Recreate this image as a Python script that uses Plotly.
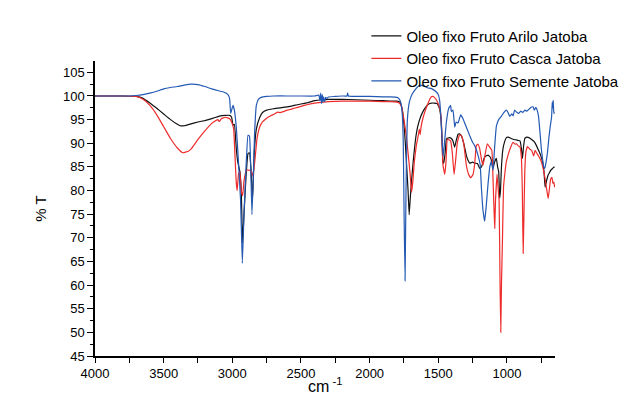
import plotly.graph_objects as go

# ---------------- data ----------------
arilo_x = [4000, 3800, 3700, 3650, 3600, 3550, 3500, 3450, 3400, 3380, 3350, 3300, 3250, 3200, 3150, 3100,
           3050, 3020, 3005, 2995, 2985, 2970, 2960, 2945, 2935, 2925, 2915, 2900, 2886, 2875, 2865, 2853,
           2840, 2825, 2800, 2780, 2750, 2700, 2650, 2600, 2550, 2500, 2450, 2400, 2350, 2300, 2250, 2200,
           2100, 2000, 1900, 1800, 1780, 1765, 1750, 1740, 1730, 1720, 1712, 1705, 1695, 1680, 1665, 1650,
           1630, 1610, 1590, 1570, 1550, 1530, 1510, 1500, 1490, 1480, 1472, 1466, 1460, 1450, 1441, 1430,
           1417, 1405, 1393, 1381, 1370, 1356, 1345, 1332, 1315, 1296, 1285, 1271, 1250, 1235, 1215, 1198,
           1185, 1174, 1160, 1138, 1120, 1110, 1101, 1090, 1077, 1068, 1060, 1053, 1047, 1040, 1029, 1015,
           1004, 990, 970, 950, 930, 919, 905, 895, 887, 880, 870, 855, 840, 820, 800, 785, 770, 755, 740,
           730, 722, 712, 700, 690, 680, 670, 660, 653]
arilo_y = [100, 100, 99.9, 99.5, 98.5, 97.4, 96.2, 95.0, 94.0, 93.7, 93.7, 94.1, 94.5, 94.8, 95.2, 95.7,
           95.9, 95.9, 95.5, 93.8, 94.0, 88.5, 86.0, 84.0, 80.0, 68.9, 75.0, 83.0, 87.8, 88.0, 85.0, 78.0,
           88.0, 93.0, 95.5, 96.5, 97.0, 97.3, 97.5, 97.7, 98.0, 98.3, 98.6, 99.0, 99.2, 99.3, 99.3, 99.3,
           99.2, 99.1, 99.0, 98.9, 98.7, 97.5, 94.0, 90.0, 85.0, 80.0, 74.9, 78.0, 82.0, 87.0, 91.0, 93.5,
           95.5, 96.8, 97.7, 98.3, 98.5, 98.5, 98.4, 98.0, 97.2, 95.0, 90.0, 86.0, 85.8, 88.0, 90.9, 91.1,
           91.2, 91.0, 90.5, 89.2, 90.5, 91.9, 92.0, 91.6, 90.0, 87.5, 86.5, 85.8, 86.0, 85.8, 85.7, 84.7,
           85.0, 86.1, 87.2, 87.5, 87.0, 86.0, 84.7, 86.0, 86.8, 85.0, 84.0, 78.4, 80.0, 85.0, 88.8, 90.5,
           91.2, 91.3, 91.0, 90.8, 90.7, 90.6, 90.5, 89.0, 86.8, 89.0, 91.0, 91.3, 91.2, 90.8, 90.3, 89.5,
           88.5, 87.5, 86.0, 84.0, 80.7, 82.0, 83.3, 83.8, 84.3, 84.6, 84.9, 85.0]

casca_x = [4000, 3800, 3700, 3650, 3600, 3550, 3500, 3450, 3400, 3360, 3320, 3300, 3250, 3200, 3150, 3120,
           3105, 3095, 3080, 3050, 3020, 3005, 2990, 2980, 2972, 2965, 2955, 2945, 2935, 2925, 2915, 2898,
           2874, 2860, 2850, 2837, 2820, 2800, 2780, 2750, 2720, 2700, 2670, 2650, 2600, 2550, 2500, 2450,
           2400, 2300, 2200, 2100, 2000, 1900, 1850, 1800, 1780, 1765, 1750, 1735, 1720, 1705, 1695, 1685,
           1675, 1660, 1645, 1638, 1632, 1625, 1610, 1590, 1570, 1555, 1540, 1525, 1510, 1500, 1490, 1478,
           1466, 1453, 1444, 1434, 1420, 1410, 1398, 1385, 1375, 1361, 1345, 1332, 1315, 1296, 1280, 1264,
           1247, 1235, 1223, 1210, 1198, 1185, 1174, 1160, 1143, 1126, 1110, 1101, 1094, 1089, 1083, 1072,
           1063, 1057, 1050, 1045, 1040, 1033, 1025, 1016, 1005, 992, 975, 956, 940, 930, 919, 905, 895,
           888, 882, 876, 870, 862, 850, 835, 820, 805, 795, 785, 770, 755, 740, 725, 712, 700, 692, 682,
           672, 665, 658, 653]
casca_y = [100, 100, 99.9, 99.3, 98.0, 96.0, 93.5, 91.0, 89.0, 88.0, 88.3, 88.8, 90.8, 92.6, 94.2, 94.8,
           95.0, 94.6, 95.2, 95.5, 95.2, 94.5, 93.0, 87.0, 82.0, 80.0, 83.4, 84.0, 80.0, 78.9, 82.0, 84.3,
           84.3, 84.0, 83.0, 86.0, 91.0, 93.5, 94.5, 95.3, 95.8, 96.1, 96.6, 96.5, 97.0, 97.4, 97.8, 98.2,
           98.5, 98.8, 98.9, 98.9, 98.9, 98.8, 98.8, 98.7, 98.4, 97.5, 95.0, 92.0, 88.0, 83.5, 79.6, 82.0,
           86.0, 89.5, 91.8, 93.0, 91.8, 93.5, 95.5, 97.3, 98.8, 99.7, 99.9, 99.6, 99.0, 98.3, 97.5, 95.0,
           85.4, 83.4, 86.0, 90.9, 90.7, 90.5, 88.0, 83.4, 86.0, 90.2, 91.8, 91.6, 90.0, 85.4, 83.5, 82.7,
           83.4, 85.5, 89.5, 89.8, 88.8, 86.5, 85.4, 87.5, 89.9, 89.2, 88.5, 82.0, 76.0, 72.0, 78.0, 83.4,
           80.0, 78.0, 60.0, 50.0, 60.0, 69.0, 80.7, 83.4, 86.0, 87.5, 89.0, 90.2, 89.8, 89.9, 89.5, 89.2,
           87.0, 80.0, 66.7, 75.0, 84.0, 88.2, 89.3, 88.8, 88.5, 87.3, 88.5, 88.0, 87.3, 86.5, 85.1, 83.0,
           80.5, 78.3, 80.0, 82.4, 82.8, 81.5, 81.8, 80.7]

semente_x = [4000, 3800, 3750, 3700, 3650, 3600, 3550, 3500, 3450, 3400, 3350, 3300, 3250, 3200, 3150, 3100,
             3060, 3035, 3020, 3012, 3005, 2995, 2985, 2970, 2955, 2940, 2927, 2915, 2900, 2886, 2875, 2866,
             2857, 2848, 2838, 2825, 2810, 2790, 2750, 2700, 2600, 2500, 2400, 2370, 2362, 2356, 2350, 2345,
             2340, 2335, 2328, 2320, 2310, 2300, 2250, 2200, 2165, 2160, 2155, 2100, 2000, 1900, 1850, 1800,
             1785, 1772, 1762, 1755, 1749, 1742, 1735, 1725, 1710, 1690, 1672, 1655, 1635, 1615, 1600, 1575,
             1555, 1540, 1520, 1502, 1490, 1477, 1465, 1455, 1441, 1424, 1410, 1405, 1393, 1380, 1370, 1356,
             1337, 1320, 1308, 1290, 1271, 1250, 1235, 1211, 1195, 1186, 1175, 1162, 1150, 1138, 1125, 1114,
             1101, 1090, 1077, 1060, 1041, 1020, 1004, 992, 980, 965, 955, 944, 930, 915, 900, 885, 870, 855,
             840, 825, 810, 800, 790, 780, 770, 760, 750, 740, 732, 724, 715, 705, 695, 685, 675, 670, 667,
             663, 660, 657, 653]
semente_y = [100, 100, 100, 100.1, 100.3, 100.6, 101.0, 101.5, 101.8, 102.0, 102.3, 102.5, 102.4, 102.0, 101.5, 101.1,
             100.8, 100.4, 99.5, 96.3, 97.0, 98.0, 97.0, 93.0, 86.0, 78.0, 64.6, 75.0, 85.0, 91.7, 91.5, 85.0,
             74.9, 82.0, 92.0, 98.0, 99.3, 99.7, 99.9, 100.0, 100.0, 100.0, 100.0, 100.2, 99.0, 100.6, 98.4, 100.3,
             98.7, 99.8, 98.8, 99.7, 99.5, 99.8, 99.9, 100.0, 100.0, 100.6, 100.0, 99.9, 99.9, 99.8, 99.8, 99.7,
             99.4, 98.5, 96.0, 90.0, 75.0, 60.9, 80.0, 95.0, 98.8, 100.4, 101.2, 101.8, 102.3, 102.2, 102.0, 101.7,
             101.6, 101.4, 101.0, 100.4, 99.0, 93.6, 87.1, 90.0, 94.5, 97.4, 98.0, 96.7, 97.0, 93.4, 94.5, 94.3,
             96.0, 95.2, 94.3, 93.0, 91.6, 90.2, 89.5, 87.5, 85.5, 80.6, 76.0, 73.5, 77.0, 81.3, 85.0, 86.1,
             84.3, 89.0, 93.6, 95.0, 95.7, 96.6, 97.0, 96.5, 95.7, 96.2, 95.8, 97.0, 96.6, 96.3, 96.8, 96.5, 97.0, 96.8,
             97.2, 97.6, 97.7, 97.0, 97.6, 97.0, 95.7, 92.5, 89.0, 86.5, 85.0, 84.7, 86.0, 88.0, 91.0, 93.5, 95.5, 98.7, 97.5,
             99.1, 97.0, 96.3, 96.5]

series_names = ["Oleo fixo Fruto Arilo Jatoba", "Oleo fixo Fruto Casca Jatoba", "Oleo fixo Fruto Semente Jatoba"]
x_ticks = [4000, 3500, 3000, 2500, 2000, 1500, 1000]
y_ticks = [45, 50, 55, 60, 65, 70, 75, 80, 85, 90, 95, 100, 105]

# ---------------- figure ----------------
FONT = "Liberation Sans, Arial, sans-serif"
colors = ["#111111", "#ee2b2b", "#2459b3"]

fig = go.Figure()
for xs, ys, name, c in zip([arilo_x, casca_x, semente_x], [arilo_y, casca_y, semente_y], series_names, colors):
    fig.add_trace(go.Scatter(x=xs, y=ys, mode="lines", name=name,
                             line=dict(color=c, width=1.2, shape="spline", smoothing=0.3)))

axis_common = dict(showgrid=False, zeroline=False, showline=True, linecolor="black", linewidth=1.5,
                   ticks="outside", tickcolor="black", tickwidth=1.3,
                   tickfont=dict(family=FONT, size=13, color="black"))

fig.update_xaxes(range=[4000, 650], tickvals=x_ticks, ticklen=5,
                 minor=dict(tickvals=[3750, 3250, 2750, 2250, 1750, 1250, 750], ticklen=5,
                            ticks="outside", tickcolor="black", tickwidth=1.3),
                 **axis_common)
fig.update_yaxes(range=[45, 107.4], tickvals=y_ticks, ticklen=6,
                 minor=dict(dtick=2.5, tick0=45, ticklen=3, ticks="outside", tickcolor="black", tickwidth=1.3),
                 **axis_common)

fig.add_annotation(text="% T", xref="paper", yref="paper", x=-0.142, y=0.5, textangle=-90,
                   showarrow=False, font=dict(family=FONT, size=15, color="black"))
fig.add_annotation(text="cm<sup> -1</sup>", xref="paper", yref="paper", x=0.5, y=-0.1405, yanchor="bottom",
                   showarrow=False, font=dict(family=FONT, size=16, color="black"))

fig.update_layout(
    width=632, height=394, autosize=False,
    margin=dict(l=87, r=85, t=43, b=46),
    plot_bgcolor="white", paper_bgcolor="white",
    showlegend=True,
    legend=dict(x=0.59, y=1.14, xanchor="left", yanchor="top", bgcolor="rgba(0,0,0,0)",
                font=dict(family=FONT, size=15, color="black"), tracegroupgap=0,
                itemwidth=30),
)

fig.write_html("out.html")
